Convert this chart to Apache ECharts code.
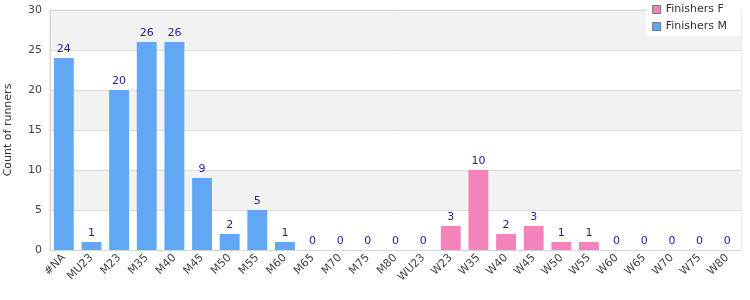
<!DOCTYPE html>
<html>
<head>
<meta charset="utf-8">
<script src="https://cdn.jsdelivr.net/npm/echarts@6/dist/echarts.min.js"></script>
<style>
  html, body { margin: 0; padding: 0; background: #fff; }
  #chart { width: 750px; height: 300px; }
</style>
</head>
<body>
<div id="chart"></div>
<script>
  var categories = ["#NA", "MU23", "M23", "M35", "M40", "M45", "M50", "M55", "M60", "M65", "M70", "M75", "M80",
    "WU23", "W23", "W35", "W40", "W45", "W50", "W55", "W60", "W65", "W70", "W75", "W80"];
  // "-" means no bar for that series in that category
  var finishersM = [24, 1, 20, 26, 26, 9, 2, 5, 1, 0, 0, 0, 0,
    "-", "-", "-", "-", "-", "-", "-", "-", "-", "-", "-", "-"];
  var finishersF = ["-", "-", "-", "-", "-", "-", "-", "-", "-", "-", "-", "-", "-",
    0, 3, 10, 2, 3, 1, 1, 0, 0, 0, 0, 0];
  var yTicks = { min: 0, max: 30, interval: 5 };

  var FONT = "DejaVu Sans";
  var BLUE = "#60a8f3", PINK = "#f383bb";
  var chart = echarts.init(document.getElementById("chart"), null, { renderer: "canvas" });

  var labelStyle = {
    show: true,
    position: "top",
    color: "#1f1f8f",
    fontFamily: FONT,
    fontSize: 11,
    distance: 3
  };

  chart.setOption({
    animation: false,
    textStyle: { fontFamily: FONT },
    grid: {
      left: 50, right: 9, top: 10, bottom: 50,
      outerBoundsMode: "none",
      containLabel: false,
      show: true, borderColor: "#dcdcdc", borderWidth: 1, backgroundColor: "transparent"
    },
    legend: {
      orient: "vertical",
      right: 9,
      top: 1,
      padding: [3, 14, 4, 6],
      backgroundColor: "#fff",
      icon: "rect",
      itemWidth: 8,
      itemHeight: 8,
      itemGap: 6,
      itemStyle: { borderColor: "#777", borderWidth: 1 },
      textStyle: { fontFamily: FONT, fontSize: 11, color: "#333" },
      data: ["Finishers F", "Finishers M"]
    },
    xAxis: {
      type: "category",
      data: categories,
      axisLine: { lineStyle: { color: "#d6d6d6" } },
      axisTick: { show: false },
      axisLabel: { rotate: 45, color: "#444", fontFamily: FONT, fontSize: 11, interval: 0, margin: 6 }
    },
    yAxis: {
      type: "value",
      min: yTicks.min,
      max: yTicks.max,
      interval: yTicks.interval,
      name: "Count of runners",
      nameLocation: "middle",
      nameGap: 36,
      nameTextStyle: { color: "#333", fontFamily: FONT, fontSize: 11 },
      axisLine: { show: true, lineStyle: { color: "#d6d6d6" } },
      axisTick: { show: false },
      axisLabel: { color: "#444", fontFamily: FONT, fontSize: 11, margin: 8 },
      splitLine: { lineStyle: { color: "#dcdcdc" } },
      splitArea: { show: true, areaStyle: { color: ["#ffffff", "#f2f2f2"] } }
    },
    series: [
      {
        name: "Finishers F",
        type: "bar",
        stack: "all",
        barWidth: "72%",
        data: finishersF,
        itemStyle: { color: PINK, borderColor: PINK, borderWidth: 0 },
        label: labelStyle
      },
      {
        name: "Finishers M",
        type: "bar",
        stack: "all",
        barWidth: "72%",
        data: finishersM,
        itemStyle: { color: BLUE, borderColor: BLUE, borderWidth: 0 },
        label: labelStyle
      }
    ]
  });
</script>
</body>
</html>
